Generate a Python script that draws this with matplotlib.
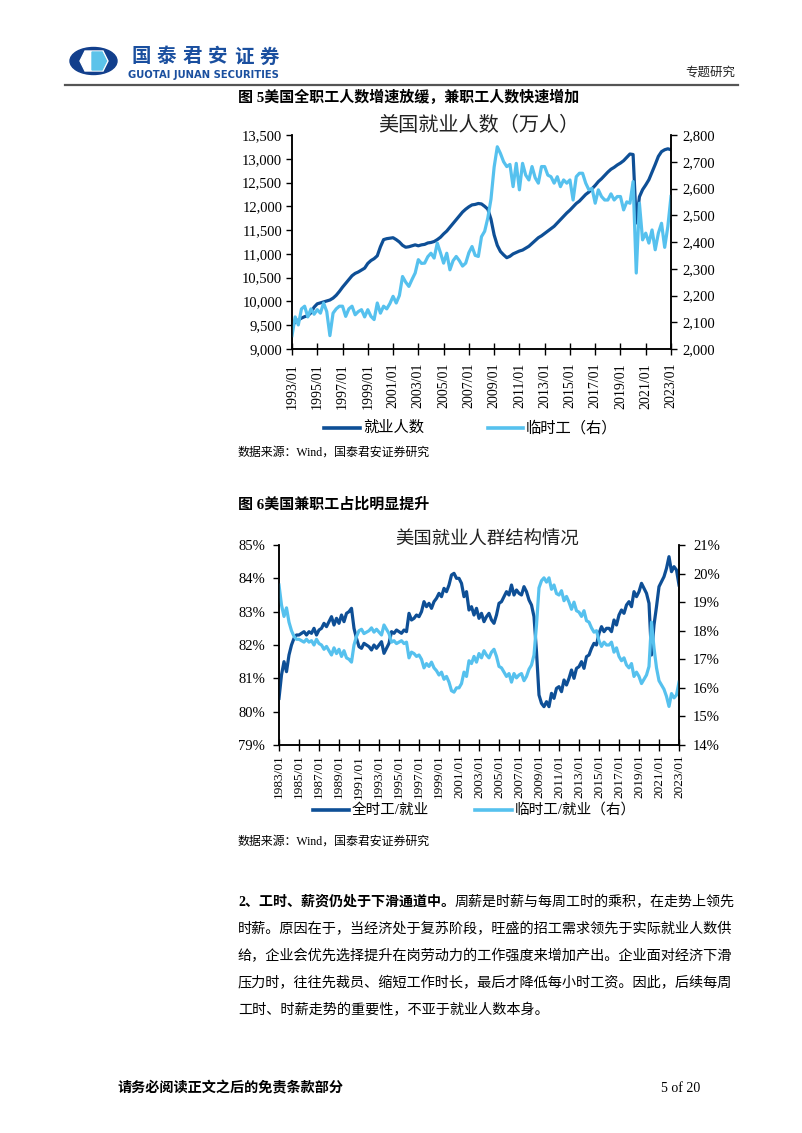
import numpy as np
import matplotlib.pyplot as plt
from matplotlib.lines import Line2D
from matplotlib.patches import Ellipse, Polygon
from matplotlib.ticker import FuncFormatter

plt.rcParams['font.family'] = ['Liberation Serif', 'Noto Sans CJK SC', 'DejaVu Sans']

W, H = 802, 1133
DARK = '#0e4f96'
LIGHT = '#56c1ee'

# 图5: quarterly, 1993Q1 - 2023Q1 (万人)
full_time = [
    9500, 9560, 9610, 9650,
    9680, 9700, 9760, 9880,
    9950, 9970, 9990, 10010,
    10030, 10070, 10130, 10210,
    10300, 10380, 10460, 10540,
    10590, 10620, 10660, 10700,
    10800, 10860, 10900, 10960,
    11150, 11300, 11320, 11330,
    11340, 11300, 11250, 11180,
    11140, 11150, 11170, 11190,
    11170, 11190, 11200, 11230,
    11240, 11260, 11300, 11350,
    11420, 11480, 11560, 11640,
    11720, 11800, 11880, 11940,
    11990, 12030, 12040, 12060,
    12050, 12000, 11940, 11730,
    11400, 11180, 11050, 10980,
    10920, 10950, 11000, 11030,
    11060, 11080, 11120, 11160,
    11220, 11280, 11340, 11380,
    11430, 11480, 11530, 11580,
    11650, 11720, 11790, 11860,
    11920, 11990, 12060, 12110,
    12180, 12250, 12300, 12370,
    12440, 12520, 12580, 12650,
    12720, 12780, 12820, 12870,
    12910, 12960, 13030, 13100,
    13090, 11650, 12200, 12350,
    12450, 12560, 12720, 12880,
    13050, 13150, 13190, 13210,
    13190,
]
temp_workers = [
    2050, 2120, 2090, 2150,
    2160, 2120, 2150, 2130,
    2147, 2134, 2172, 2140,
    2050, 2134, 2150, 2160,
    2160, 2122, 2150, 2160,
    2128, 2140, 2147, 2120,
    2147, 2122, 2110, 2172,
    2134, 2160, 2150, 2170,
    2197, 2172, 2200, 2271,
    2250, 2234, 2260, 2284,
    2334, 2320, 2321, 2345,
    2358, 2340, 2396, 2360,
    2321, 2358, 2296, 2330,
    2346, 2330, 2310, 2321,
    2360, 2383, 2350, 2346,
    2420, 2440, 2490, 2560,
    2680, 2756, 2731, 2700,
    2682, 2690, 2607, 2694,
    2595, 2694, 2650, 2632,
    2682, 2640, 2620, 2682,
    2682, 2650, 2644, 2620,
    2644, 2607, 2632, 2620,
    2632, 2557, 2644, 2657,
    2657, 2620, 2595, 2600,
    2545, 2595, 2570, 2557,
    2557, 2580, 2557, 2570,
    2570, 2520, 2550, 2545,
    2626, 2284, 2545, 2408,
    2433, 2396, 2445, 2371,
    2433, 2470, 2380, 2458,
    2570,
]
x_labels1 = ['%d/01' % y for y in range(1993, 2024, 2)]

# 图6: quarterly, 1983Q1 - 2023Q1 (%)
ft_share = [
    80.4, 81.1, 81.5, 81.2,
    81.7, 82.0, 82.2, 82.3,
    82.3, 82.35, 82.4, 82.3,
    82.4, 82.35, 82.5, 82.3,
    82.45, 82.5, 82.65, 82.55,
    82.7, 82.85, 82.6, 82.8,
    82.65, 82.9, 82.7, 82.95,
    83.0, 83.1, 82.5, 82.2,
    81.95, 81.9, 82.05, 82.0,
    81.95, 81.85, 82.0, 81.9,
    82.0, 82.1, 81.75, 81.9,
    82.05, 82.4, 82.35, 82.45,
    82.4, 82.35, 82.45, 82.4,
    82.95, 82.75, 82.8, 82.9,
    82.85, 83.0, 83.3, 83.15,
    83.25, 83.1, 83.3, 83.4,
    83.55, 83.45, 83.7, 83.6,
    83.8, 84.1, 84.15, 84.0,
    84.0, 83.85, 83.45, 83.6,
    83.05, 83.15, 82.9, 83.1,
    82.8, 82.95, 82.7, 82.85,
    82.95, 82.75, 82.65, 82.9,
    83.25, 83.3, 83.45, 83.6,
    83.5, 83.8, 83.5, 83.65,
    83.55, 83.5, 83.75, 83.6,
    83.35, 83.2, 82.85, 81.8,
    80.5, 80.25, 80.15, 80.3,
    80.15, 80.55, 80.4, 80.7,
    80.75, 80.6, 80.95, 80.8,
    81.0, 81.25, 81.0, 81.3,
    81.35, 81.5, 81.3, 81.65,
    81.7, 81.9, 82.05, 82.0,
    82.35, 82.55, 82.4, 82.5,
    82.5, 82.4, 82.75, 82.6,
    82.9, 83.05, 82.95, 83.2,
    83.3, 83.15, 83.6, 83.45,
    83.6, 83.85, 83.7, 83.55,
    83.25, 81.7, 82.6, 83.15,
    83.75, 83.9, 84.05, 84.3,
    84.65, 84.2, 84.35, 84.25,
    83.8,
]
temp_share = [
    19.6, 18.9, 18.5, 18.8,
    18.3, 18.0, 17.8, 17.7,
    17.7, 17.65, 17.6, 17.7,
    17.6, 17.65, 17.5, 17.7,
    17.55, 17.5, 17.35, 17.45,
    17.3, 17.15, 17.4, 17.2,
    17.35, 17.1, 17.3, 17.05,
    17.0, 16.9, 17.5, 17.8,
    18.0, 18.05, 17.9, 17.95,
    18.0, 18.1, 17.95, 18.05,
    17.95, 17.85, 18.2, 18.05,
    17.9, 17.6, 17.65, 17.55,
    17.6, 17.65, 17.55, 17.6,
    17.05, 17.25, 17.2, 17.1,
    17.15, 17.0, 16.7, 16.85,
    16.75, 16.9, 16.7, 16.6,
    16.45, 16.55, 16.3, 16.4,
    16.2, 15.9, 15.85, 16.0,
    16.0, 16.15, 16.55, 16.4,
    16.95, 16.85, 17.1, 16.9,
    17.2, 17.05, 17.3, 17.15,
    17.05, 17.25, 17.35, 17.1,
    16.75, 16.7, 16.55, 16.4,
    16.5, 16.2, 16.5, 16.35,
    16.45, 16.5, 16.25, 16.4,
    16.65, 16.8, 17.15, 18.2,
    19.5, 19.75, 19.85, 19.7,
    19.85, 19.45, 19.6, 19.3,
    19.25, 19.4, 19.05, 19.2,
    19.0, 18.75, 19.0, 18.7,
    18.65, 18.5, 18.7, 18.35,
    18.3, 18.1, 17.95, 18.0,
    17.65, 17.45, 17.6, 17.5,
    17.5, 17.6, 17.25, 17.4,
    17.1, 16.95, 17.05, 16.8,
    16.7, 16.85, 16.4, 16.55,
    16.4, 16.15, 16.3, 16.45,
    16.75, 18.3, 17.4, 16.7,
    16.25, 16.1, 15.95, 15.7,
    15.35, 15.8, 15.65, 15.75,
    16.2,
]
x_labels2 = ['%d/01' % y for y in range(1983, 2024, 2)]

paragraph = [
    '时薪。原因在于，当经济处于复苏阶段，旺盛的招工需求领先于实际就业人数供',
    '给，企业会优先选择提升在岗劳动力的工作强度来增加产出。企业面对经济下滑',
    '压力时，往往先裁员、缩短工作时长，最后才降低每小时工资。因此，后续每周',
    '工时、时薪走势的重要性，不亚于就业人数本身。',
]

fig = plt.figure(figsize=(W / 100, H / 100), dpi=100)

# page layer in pixel coordinates
page = fig.add_axes([0, 0, 1, 1])
page.set_xlim(0, W)
page.set_ylim(H, 0)
page.axis('off')


def txt(x, y, s, **kw):
    kw.setdefault('va', 'center')
    return page.text(x, y, s, **kw)


# header
page.add_patch(Ellipse((93.5, 61), 47, 27, color='#123f8c'))
page.add_patch(Polygon([(80, 61), (85, 51), (103, 51), (108, 61), (103, 71), (85, 71)], color='white'))
page.add_patch(Polygon([(92, 52), (102, 52), (106.5, 61), (102, 70), (92, 70)], color='#5cc3ea'))
for i, ch in enumerate('国泰君安证券'):
    txt(128 + 12.8 + 25.7 * i, 57, ch, fontsize=14, fontweight='bold', color='#1a4f9f',
        ha='center', family=['Noto Sans CJK SC'])
txt(128, 75, 'GUOTAI JUNAN SECURITIES', fontsize=7.2, fontweight='bold', color='#1a4f9f',
    family=['DejaVu Sans'])
txt(735, 73, '专题研究', fontsize=9, color='#222222', ha='right')
page.add_line(Line2D([65, 738], [84.5, 84.5], color='#555555', lw=1.6))

# captions
txt(238, 97, '图 5美国全职工人数增速放缓，兼职工人数快速增加', fontsize=10.8, fontweight='bold')
txt(238, 505, '图 6美国兼职工占比明显提升', fontsize=10.8, fontweight='bold')


def style_axes(ax, side_ax, lsize, xsize):
    for a in (ax, side_ax):
        a.spines['top'].set_visible(False)
        for s in a.spines.values():
            s.set_linewidth(1.1)
    ax.tick_params(axis='y', direction='out', length=4, width=1, labelsize=lsize, pad=3)
    side_ax.tick_params(axis='y', direction='out', length=4, width=1, labelsize=lsize, pad=4.5)
    ax.tick_params(axis='x', direction='inout', length=8, width=1, labelsize=xsize, pad=4)


# chart 1
ax1 = fig.add_axes([292 / W, 1 - 349 / H, 379 / W, 214 / H])
x1 = np.arange(len(full_time))
ax1.plot(x1, full_time, color=DARK, lw=2.3)
ax1.set_xlim(0, len(full_time) - 1)
ax1.set_ylim(9000, 13500)
ax1.set_yticks(np.arange(9000, 13501, 500))
ax1.yaxis.set_major_formatter(FuncFormatter(lambda v, p: '{:,.0f}'.format(v)))
ax1.set_xticks(np.arange(0, len(full_time), 8))
ax1.set_xticklabels(x_labels1, rotation=90)
ax1b = ax1.twinx()
ax1b.plot(x1, temp_workers, color=LIGHT, lw=2.3)
ax1b.set_ylim(2000, 2800)
ax1b.set_yticks(np.arange(2000, 2801, 100))
ax1b.yaxis.set_major_formatter(FuncFormatter(lambda v, p: '{:,.0f}'.format(v)))
style_axes(ax1, ax1b, 10.5, 10)
ax1.tick_params(axis='x', pad=6)
txt(479, 126, '美国就业人数（万人）', fontsize=14.5, color='#222222', ha='center')

# legend 1
page.add_line(Line2D([324, 360], [428, 428], color=DARK, lw=2.6))
txt(363, 428, '就业人数', fontsize=11)
page.add_line(Line2D([488, 523], [428, 428], color=LIGHT, lw=2.6))
txt(526, 428, '临时工（右）', fontsize=11)
txt(238, 452.5, '数据来源：Wind，国泰君安证券研究', fontsize=8.6)

# chart 2
ax2 = fig.add_axes([279 / W, 1 - 745 / H, 400 / W, 200 / H])
x2 = np.arange(len(ft_share))
ax2.plot(x2, ft_share, color=DARK, lw=2.3, zorder=3)
ax2.set_xlim(0, len(ft_share) - 1)
ax2.set_ylim(79, 85)
ax2.set_yticks(np.arange(79, 86, 1))
ax2.yaxis.set_major_formatter(FuncFormatter(lambda v, p: '%d%%' % v))
ax2.set_xticks(np.arange(0, len(ft_share), 8))
ax2.set_xticklabels(x_labels2, rotation=90)
ax2b = ax2.twinx()
ax2b.plot(x2, temp_share, color=LIGHT, lw=2.3)
ax2b.set_ylim(14, 21)
ax2b.set_yticks(np.arange(14, 22, 1))
ax2b.yaxis.set_major_formatter(FuncFormatter(lambda v, p: '%d%%' % v))
style_axes(ax2, ax2b, 10.5, 9.6)
ax2.tick_params(axis='x', pad=3)
ax2.tick_params(axis='y', pad=6)
ax2b.tick_params(axis='y', pad=6)
txt(487, 540, '美国就业人群结构情况', fontsize=13.2, color='#222222', ha='center')

# legend 2
page.add_line(Line2D([313, 349], [810, 810], color=DARK, lw=2.6))
txt(352, 810, '全时工/就业', fontsize=10.5)
page.add_line(Line2D([475, 512], [810, 810], color=LIGHT, lw=2.6))
txt(515, 810, '临时工/就业（右）', fontsize=10.5)
txt(238, 841.5, '数据来源：Wind，国泰君安证券研究', fontsize=8.6)

# body text
fig.canvas.draw()
renderer = fig.canvas.get_renderer()
b = txt(238, 902, '2、工时、薪资仍处于下滑通道中。', fontsize=10.1, fontweight='bold')
bb = b.get_window_extent(renderer=renderer)
txt(bb.x1, 902, '周薪是时薪与每周工时的乘积，在走势上领先', fontsize=10.1)
for i, line in enumerate(paragraph):
    txt(238, 929 + 27 * i, line, fontsize=10.2)

# footer
txt(117, 1088, '请务必阅读正文之后的免责条款部分', fontsize=10.2, fontweight='bold')
txt(700, 1088, '5 of 20', fontsize=10, ha='right')

fig.savefig('out.png', dpi=100)
